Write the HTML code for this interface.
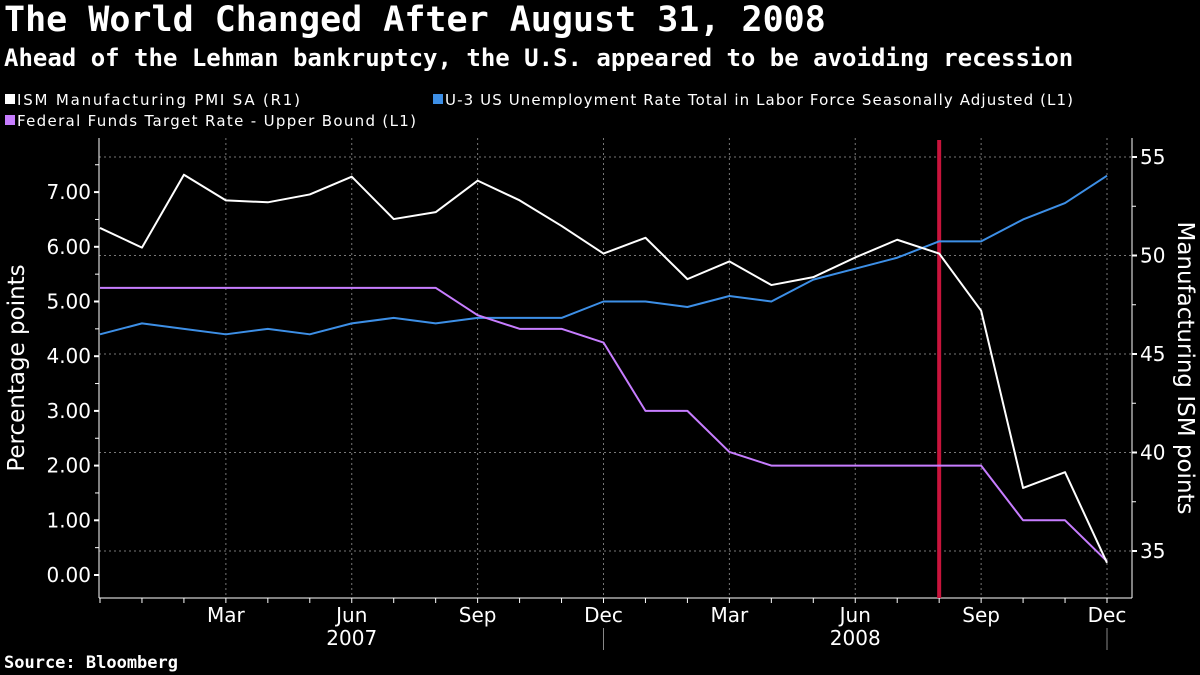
<!DOCTYPE html>
<html><head><meta charset="utf-8"><style>
body{margin:0;background:#000;width:1200px;height:675px;overflow:hidden;font-family:"Liberation Sans","DejaVu Sans",sans-serif;color:#fff}
.t{position:absolute;left:4px;font-family:"DejaVu Sans Mono","Liberation Mono",monospace;font-weight:bold;white-space:nowrap}
</style></head><body>
<div class="t" style="top:0px;font-size:35px">The World Changed After August 31, 2008</div>
<div class="t" style="top:44px;font-size:24px">Ahead of the Lehman bankruptcy, the U.S. appeared to be avoiding recession</div>
<div class="t" style="top:653px;font-size:17px">Source: Bloomberg</div>
<svg id="c" width="1200" height="675" style="position:absolute;left:0;top:0" font-family="DejaVu Sans, Liberation Sans, sans-serif"></svg>
<script>
const months=["Dec","Jan","Feb","Mar","Apr","May","Jun","Jul","Aug","Sep","Oct","Nov","Dec","Jan","Feb","Mar","Apr","May","Jun","Jul","Aug","Sep","Oct","Nov","Dec"];
const ism=[51.4,50.4,54.1,52.8,52.7,53.1,54.0,51.85,52.2,53.8,52.8,51.5,50.1,50.9,48.8,49.7,48.5,48.9,49.9,50.8,50.1,47.2,38.2,39.0,34.4];
const unemp=[4.4,4.6,4.5,4.4,4.5,4.4,4.6,4.7,4.6,4.7,4.7,4.7,5.0,5.0,4.9,5.1,5.0,5.4,5.6,5.8,6.1,6.1,6.5,6.8,7.3];
const fed=[5.25,5.25,5.25,5.25,5.25,5.25,5.25,5.25,5.25,4.75,4.5,4.5,4.25,3.0,3.0,2.25,2.0,2.0,2.0,2.0,2.0,2.0,1.0,1.0,0.25];
const leftTicks=[0,1,2,3,4,5,6,7];
const rightTicks=[35,40,45,50,55];
const eventIndex=20;
const svg=document.getElementById('c');const NS='http://www.w3.org/2000/svg';
function el(t,a,p){const e=document.createElementNS(NS,t);for(const k in a)e.setAttribute(k,a[k]);(p||svg).appendChild(e);return e;}
const X=i=>100+i*(1107-100)/24;
const YL=v=>575-v*54.7;
const YR=v=>551-(v-35)*19.7;
const L=99,R=1132,T=138,B=598;
// legend
const leg=[["ISM Manufacturing PMI SA  (R1)","#fff",5,104,283],["U-3 US Unemployment Rate Total in Labor Force Seasonally Adjusted  (L1)","#3d8fe6",433,104,628],["Federal Funds Target Rate - Upper Bound  (L1)","#c77dff",5,125,399]];
leg.forEach((g,k)=>{const gr=el('g',{});


el('rect',{x:g[2],y:g[3]-10,width:10,height:10,fill:g[1]},gr);
const t=el('text',{x:g[2]+12,y:g[3]+1,fill:'#fff','font-size':15,textLength:g[4],lengthAdjust:'spacing'},gr);t.textContent=g[0];});
// grid
rightTicks.forEach(v=>{const l=el('line',{x1:L,x2:R,y1:YR(v),y2:YR(v),stroke:'#777','stroke-dasharray':'2,3','stroke-width':1});

});
months.forEach((m,i)=>{if(i%3===0&&i>0){const l=el('line',{x1:X(i),x2:X(i),y1:T,y2:B,stroke:'#777','stroke-dasharray':'2,3'});

}});
// axes
el('line',{x1:L,x2:L,y1:T,y2:B,stroke:'#fff'});
el('line',{x1:R,x2:R,y1:T,y2:B,stroke:'#fff'});
el('line',{x1:L,x2:R,y1:B,y2:B,stroke:'#fff'});
leftTicks.forEach(v=>{el('line',{x1:L-5,x2:L,y1:YL(v),y2:YL(v),stroke:'#fff','stroke-width':2});
el('line',{x1:L-4,x2:L,y1:YL(v+0.5),y2:YL(v+0.5),stroke:'#fff'});
const t=el('text',{x:L-8,y:YL(v)+7,fill:'#fff','font-size':20,'text-anchor':'end'});t.textContent=v.toFixed(2);

});
rightTicks.forEach(v=>{el('line',{x1:R,x2:R+5,y1:YR(v),y2:YR(v),stroke:'#fff','stroke-width':2});
if(v>35)el('line',{x1:R,x2:R+4,y1:YR(v-2.5),y2:YR(v-2.5),stroke:'#fff'});
const t=el('text',{x:R+8,y:YR(v)+7,fill:'#fff','font-size':20});t.textContent=v;

});
months.forEach((m,i)=>{el('line',{x1:X(i),x2:X(i),y1:B,y2:B+5,stroke:'#fff'});
if(i%3===0&&i>0){const t=el('text',{x:X(i),y:B+24,fill:'#fff','font-size':20,'text-anchor':'middle'});t.textContent=m;

}});
[["2007",6],["2008",18]].forEach(y=>{const t=el('text',{x:X(y[1]),y:B+47,fill:'#fff','font-size':20,'text-anchor':'middle'});t.textContent=y[0];

});
[12,24].forEach(i=>el('line',{x1:X(i),x2:X(i),y1:B+30,y2:B+52,stroke:'#888'}));
let t=el('text',{transform:'translate(24,368) rotate(-90)',fill:'#fff','font-size':23,'text-anchor':'middle'});t.textContent='Percentage points';


t=el('text',{transform:'translate(1178,368) rotate(90)',fill:'#fff','font-size':23,'text-anchor':'middle'});t.textContent='Manufacturing ISM points';


// event line
const ev=el('line',{x1:X(eventIndex),x2:X(eventIndex),y1:140,y2:B,stroke:'#c8143c','stroke-width':4});


function line(arr,f,c,name){const p=el('polyline',{points:arr.map((v,i)=>X(i)+','+f(v)).join(' '),fill:'none',stroke:c,'stroke-width':2,'stroke-linejoin':'round'});

}
line(unemp,YL,'#3d8fe6','unemployment-line');
line(fed,YL,'#c77dff','fed-funds-line');
line(ism,YR,'#fff','ism-line');
</script>
</body></html>
